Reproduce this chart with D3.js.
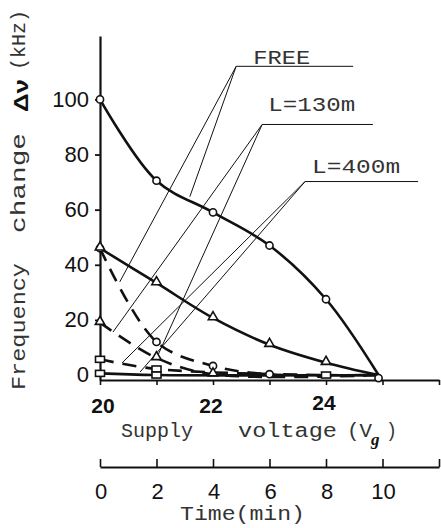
<!DOCTYPE html>
<html>
<head>
<meta charset="utf-8">
<script src="https://cdn.jsdelivr.net/npm/d3@7"></script>
<style>
  body { margin: 0; background: #fff; }
  svg { display: block; }
  .mono { font-family: "Liberation Mono", "DejaVu Sans Mono", monospace; fill: #333; }
  .num { font-family: "Liberation Sans", Arial, sans-serif; fill: #111; }
</style>
</head>
<body>
<svg class="chart" width="441" height="528"></svg>
<script>

// ---- data ----
const END_POINT = [24.93, 0];   // every curve runs into this point

const freeSolidV = [20, 21, 22, 23, 24];
const freeSolid  = [100, 70.5, 59, 47, 27.5];
const freeDashV  = [20, 21, 22, 23];
const freeDash   = [46, 12, 3.3, 0.3];

const l130SolidV = [20, 21, 22, 23, 24];
const l130Solid  = [46, 33.4, 20.7, 11, 4.5];
const l130DashV  = [20, 21, 22];
const l130Dash   = [19, 6.2, 0.3];

const l400DashV  = [20, 21, 24];
const l400Dash   = [5.7, 2.2, 0];
const l400SolidV = [20, 21];
const l400Solid  = [0.6, 0];

const voltTicks = [20, 21, 22, 23, 24, 25, 26];
const voltLabels = [20, 22, 24];
const timeTicks = [0, 2, 4, 6, 8, 10, 12];
const timeLabels = [0, 2, 4, 6, 8, 10];
const freqTicks = [0, 20, 40, 60, 80, 100];

// legend labels: text, corner of the underline (V, kHz), underline end V, leader targets
const legendNames   = ['FREE', 'L=130m', 'L=400m'];
const legendCorner  = [[22.41, 112], [22.87, 90.9], [23.63, 70.2]];
const legendLineEnd = [24.48, 24.83, 25.63];
const legendTargets = [
    [[21.59, 64.7], [20.35, 33.8]],
    [[20.23, 15.6], [21.01, 6.5]],
    [[20.39, 4.4], [20.71, 1.1]]
];

const series = [
    { v: freeSolidV, f: freeSolid, marker: 'circle',   dashed: false },
    { v: freeDashV,  f: freeDash,  marker: 'circle',   dashed: true },
    { v: l130SolidV, f: l130Solid, marker: 'triangle', dashed: false },
    { v: l130DashV,  f: l130Dash,  marker: 'triangle', dashed: true },
    { v: l400DashV,  f: l400Dash,  marker: 'square',   dashed: true },
    { v: l400SolidV, f: l400Solid, marker: 'square',   dashed: false }
];

// ---- scales ----
const x = d3.scaleLinear().domain([20, 26]).range([100, 439]);
const t = d3.scaleLinear().domain([0, 12]).range([100, 439]);
const y = d3.scaleLinear().domain([-1.8, 123]).range([380, 36]);

const svg = d3.select('svg.chart');
const INK = '#111';

// ---- axes ----
const yAxis = svg.append('g')
    .attr('transform', 'translate(' + x(20) + ',0)')
    .call(d3.axisLeft(y).tickValues(freqTicks).tickSize(5).tickSizeOuter(0).tickFormat(d3.format('d')));
yAxis.select('.domain').attr('stroke', INK).attr('stroke-width', 2.2);
yAxis.selectAll('.tick line').attr('stroke', INK).attr('stroke-width', 1.8);
yAxis.selectAll('.tick text')
    .attr('class', 'num')
    .attr('x', -11)
    .attr('dy', '0.3em')
    .style('font-size', '22px')
    .style('font-family', '"Liberation Sans", Arial, sans-serif')
    .attr('fill', INK);

const xAxis = svg.append('g')
    .attr('transform', 'translate(0,' + y(-1.8) + ')')
    .call(d3.axisBottom(x).tickValues(voltTicks).tickSize(5).tickSizeOuter(0).tickFormat(''));
xAxis.select('.domain').attr('stroke', INK).attr('stroke-width', 2.2);
xAxis.selectAll('.tick line').attr('stroke', INK).attr('stroke-width', 1.6);

svg.selectAll('text.vlab')
    .data(voltLabels)
    .enter().append('text')
        .attr('class', 'num vlab')
        .attr('x', d => x(d) + (d === 20 ? 3 : -2))
        .attr('y', d => d === 24 ? 410 : 413)
        .attr('text-anchor', 'middle')
        .style('font-size', '21px')
        .style('font-weight', 'bold')
        .text(d => d);

const tAxis = svg.append('g')
    .attr('transform', 'translate(0,467)')
    .call(d3.axisTop(t).tickValues(timeTicks).tickSize(8).tickSizeOuter(0).tickFormat(''));
tAxis.select('.domain').attr('stroke', INK).attr('stroke-width', 2);
tAxis.selectAll('.tick line').attr('stroke', INK).attr('stroke-width', 1.6);

svg.selectAll('text.tlab')
    .data(timeLabels)
    .enter().append('text')
        .attr('class', 'num tlab')
        .attr('x', d => t(d) + 1)
        .attr('y', 499)
        .attr('text-anchor', 'middle')
        .style('font-size', '22px')
        .text(d => d);

// ---- axis titles (typewriter lettering) ----
function mono(txt, px, py, len, size) {
    return svg.append('text')
        .attr('class', 'mono')
        .attr('x', px).attr('y', py)
        .attr('textLength', len)
        .attr('lengthAdjust', 'spacingAndGlyphs')
        .style('font-size', size + 'px')
        .text(txt);
}

mono('Supply', 121, 437, 72, 20);
mono('voltage', 238, 437, 99, 20);
mono('(V', 347, 437, 25, 20);
mono(')', 386, 437, 11, 20);
svg.append('text')
    .attr('x', 371).attr('y', 445)
    .style('font-family', '"Liberation Serif", serif')
    .style('font-style', 'italic')
    .style('font-weight', 'bold')
    .style('font-size', '17px')
    .attr('fill', INK)
    .text('g');

mono('Time(min)', 180, 520, 125, 20);

const yTitle = svg.append('g').attr('transform', 'translate(25,0) rotate(-90)');
[['Frequency', 390, 127], ['change', 233, 100], ['(kHz)', 70, 60]].forEach(p => {
    yTitle.append('text')
        .attr('class', 'mono')
        .attr('x', -p[1]).attr('y', 0)
        .attr('textLength', p[2])
        .attr('lengthAdjust', 'spacingAndGlyphs')
        .style('font-size', '20px')
        .text(p[0]);
});
yTitle.append('text')
    .attr('x', -112).attr('y', 3)
    .attr('textLength', 33)
    .attr('lengthAdjust', 'spacingAndGlyphs')
    .style('font-family', '"Liberation Sans", Arial, sans-serif')
    .style('font-weight', 'bold')
    .style('font-size', '21px')
    .attr('fill', INK)
    .text('\u0394\u03bd');

// ---- legend leaders ----
const legendTextOffset = [[17, -2, 57], [6, -13, 87], [7, -9, 88]];
legendNames.forEach((name, i) => {
    const c = legendCorner[i];
    const g = svg.append('g').attr('stroke', INK).attr('fill', 'none').attr('stroke-width', 1);
    g.append('line')
        .attr('x1', x(c[0])).attr('y1', y(c[1]))
        .attr('x2', x(legendLineEnd[i])).attr('y2', y(c[1]));
    legendTargets[i].forEach(p => {
        g.append('line')
            .attr('x1', x(c[0])).attr('y1', y(c[1]))
            .attr('x2', x(p[0])).attr('y2', y(p[1]));
    });
    const o = legendTextOffset[i];
    mono(name, x(c[0]) + o[0], y(c[1]) + o[1], o[2], 21);
});

// ---- curves ----
const line = d3.line()
    .x(d => x(d[0]))
    .y(d => y(d[1]))
    .curve(d3.curveCatmullRom.alpha(0.5));

series.forEach(s => {
    const pts = s.v.map((v, i) => [v, s.f[i]]).concat([END_POINT]);
    svg.append('path')
        .datum(pts)
        .attr('d', line)
        .attr('fill', 'none')
        .attr('stroke', INK)
        .attr('stroke-width', 2.6)
        .attr('stroke-dasharray', s.dashed ? '14,9' : null);
});

// ---- markers ----
const triangle = d3.symbol().type(d3.symbolTriangle).size(38);
function drawMarker(type, px, py) {
    const m = svg.append('g').attr('fill', '#fff').attr('stroke', INK).attr('stroke-width', 1.6);
    if (type === 'circle') {
        m.append('circle').attr('cx', px).attr('cy', py).attr('r', 3.6);
    } else if (type === 'triangle') {
        m.append('path').attr('d', triangle()).attr('transform', 'translate(' + px + ',' + (py - 1) + ')');
    } else {
        m.append('rect').attr('x', px - 4.5).attr('y', py - 3).attr('width', 9).attr('height', 6);
    }
}

series.forEach(s => {
    s.v.forEach((v, i) => drawMarker(s.marker, x(v), y(s.f[i])));
});
drawMarker('circle', x(END_POINT[0]), y(END_POINT[1]) + 3);

</script>
</body>
</html>
